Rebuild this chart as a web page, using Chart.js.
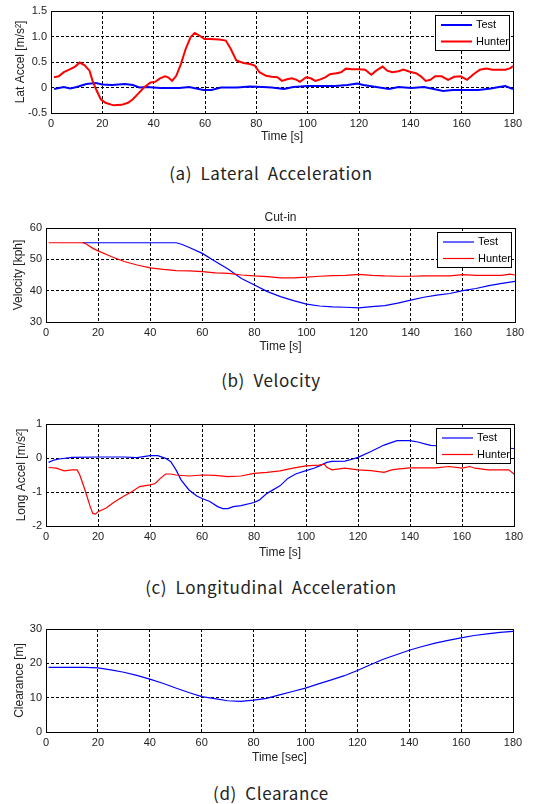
<!DOCTYPE html>
<html>
<head>
<meta charset="utf-8">
<script src="https://cdn.jsdelivr.net/npm/chart.js@4"></script>
<style>
html, body { margin: 0; padding: 0; background: #fff; }
#page { position: relative; width: 542px; height: 804px; overflow: hidden; }
.plot { position: absolute; left: 0; width: 542px; }
.cap { position: absolute; left: 0; width: 542px; text-align: center; font-family: "Noto Sans CJK KR", sans-serif;
       font-size: 17px; line-height: 20px; color: #222; word-spacing: 4px; letter-spacing: 0.6px; }
</style>
</head>
<body>
<div id="page">
  <div class="plot" style="top:0;height:150px"><canvas id="latChart"></canvas></div>
  <div class="cap" style="top:163px">(a) Lateral Acceleration</div>
  <div class="plot" style="top:200px;height:160px"><canvas id="velChart"></canvas></div>
  <div class="cap" style="top:370px">(b) Velocity</div>
  <div class="plot" style="top:410px;height:156px"><canvas id="lonChart"></canvas></div>
  <div class="cap" style="top:577px">(c) Longitudinal Acceleration</div>
  <div class="plot" style="top:610px;height:161px"><canvas id="clrChart"></canvas></div>
  <div class="cap" style="top:783px">(d) Clearance</div>
</div>
<script>
// ---- data (time in s) ----
// (a) lateral acceleration
var latTestT = [1.2, 5, 7.5, 10, 13.8, 17.5, 20, 23.8, 28.8, 31.9, 34.4, 37.5, 42.5, 50, 53.8, 59.4, 62.5, 66.2, 72.5, 77.5, 82.5, 86, 90.7, 94.4, 100, 105.6, 110.6, 115.5, 119.3, 121.7, 126.7, 131.7, 135.4, 140.4, 145.3, 149.1, 152.8, 156.5, 161.5, 166.5, 171.4, 174.5, 177, 180];
var latTest = [-0.03, 0.01, -0.02, 0.01, 0.07, 0.09, 0.06, 0.05, 0.07, 0.05, 0, 0.01, -0.01, -0.01, 0.01, -0.05, -0.05, 0, 0, 0.02, 0.01, 0, -0.03, 0.01, 0.03, 0.03, 0.03, 0.05, 0.08, 0.05, 0.01, -0.03, 0.01, -0.01, 0.01, -0.03, -0.07, -0.05, -0.05, -0.05, -0.02, 0.01, 0.03, -0.03];
var latHunterT = [1.2, 3, 5, 7.5, 9.4, 11.2, 13, 15, 16.2, 17.5, 19.4, 21.2, 24.4, 27.5, 30, 31.9, 33.8, 36.2, 38.8, 40.6, 42.5, 44.4, 45.6, 47.2, 48.8, 50.6, 52.5, 54.4, 56, 58.1, 59.8, 61.9, 65.6, 68.1, 70, 72.2, 75, 77.5, 79.4, 81.2, 83.8, 86, 88.2, 90, 92, 93.8, 95.7, 97, 99.4, 101.2, 103, 105, 106.8, 108.7, 111.2, 113, 114.9, 117.4, 120, 122.4, 124.8, 126.7, 129.2, 131, 132.9, 135.4, 137.3, 139.8, 142.2, 144.1, 146, 147.8, 149.7, 152.2, 154.7, 157.1, 159.6, 162.1, 164.6, 167.1, 169.6, 172, 174.5, 177, 179, 180];
var latHunter = [0.2, 0.22, 0.3, 0.36, 0.41, 0.49, 0.44, 0.33, 0.13, -0.03, -0.23, -0.3, -0.35, -0.34, -0.3, -0.23, -0.13, 0, 0.1, 0.11, 0.18, 0.22, 0.2, 0.13, 0.23, 0.46, 0.76, 0.99, 1.07, 1.01, 0.95, 0.95, 0.94, 0.92, 0.76, 0.53, 0.48, 0.46, 0.43, 0.3, 0.23, 0.21, 0.2, 0.13, 0.16, 0.18, 0.15, 0.11, 0.2, 0.18, 0.13, 0.16, 0.2, 0.26, 0.28, 0.3, 0.37, 0.36, 0.36, 0.35, 0.25, 0.33, 0.41, 0.33, 0.3, 0.32, 0.35, 0.31, 0.28, 0.22, 0.13, 0.15, 0.22, 0.22, 0.15, 0.21, 0.22, 0.15, 0.26, 0.35, 0.37, 0.35, 0.35, 0.35, 0.38, 0.42];

// (b) velocity [kph]
var velTestT = [14, 50, 52, 55, 60, 65, 70, 75, 80, 85, 90, 95, 100, 105, 110, 115, 120, 125, 130, 135, 140, 145, 150, 155, 160, 165, 170, 175, 180];
var velTest = [55.3, 55.3, 54.8, 53.8, 51.9, 49.3, 46.8, 43.9, 41.8, 39.7, 38.1, 36.8, 35.7, 35.1, 34.8, 34.7, 34.5, 34.9, 35.2, 36.0, 37.0, 37.9, 38.6, 39.1, 40.0, 40.7, 41.6, 42.3, 43.0];
var velHunterT = [1, 14, 15, 18, 20, 25, 30, 35, 40, 45, 50, 55, 60, 65, 70, 75, 80, 85, 90, 95, 100, 105, 110, 115, 120, 125, 130, 135, 140, 145, 150, 155, 160, 165, 170, 175, 178, 180];
var velHunter = [55.3, 55.3, 55.1, 53.5, 52.7, 50.9, 49.3, 48.2, 47.3, 46.8, 46.4, 46.3, 46.1, 45.7, 45.5, 45.0, 44.7, 44.5, 44.1, 44.1, 44.3, 44.6, 44.8, 44.9, 45.2, 44.9, 44.7, 44.6, 44.6, 44.7, 44.7, 44.7, 45.1, 44.9, 44.9, 44.9, 45.3, 45.0];

// (c) longitudinal acceleration
var lonTestT = [1, 3, 5, 10, 20, 30, 35, 40, 43, 46, 48, 50, 52, 55, 58, 60, 63, 66, 68, 70, 72, 75, 80, 82, 85, 90, 93, 96, 100, 103, 105, 108, 110, 115, 118, 120, 125, 130, 135, 140, 143, 146, 148, 150, 155, 160, 165, 170, 175, 180];
var lonTest = [-0.13, -0.06, -0.03, 0.02, 0.03, 0.03, 0.01, 0.07, 0.07, -0.01, -0.11, -0.35, -0.65, -0.94, -1.12, -1.19, -1.28, -1.43, -1.49, -1.49, -1.43, -1.40, -1.31, -1.24, -1.04, -0.82, -0.6, -0.47, -0.37, -0.3, -0.24, -0.13, -0.1, -0.09, -0.03, 0.02, 0.19, 0.38, 0.51, 0.51, 0.47, 0.41, 0.37, 0.36, 0.35, 0.33, 0.32, 0.31, 0.3, 0.28];
var lonHunterT = [1, 4, 7, 10, 12, 13, 15, 17, 18, 19, 20, 23, 26, 30, 33, 36, 40, 42, 44, 46, 48, 50, 55, 60, 65, 70, 75, 80, 85, 90, 95, 100, 105, 107, 108, 110, 115, 120, 125, 130, 133, 135, 140, 145, 150, 155, 160, 163, 165, 170, 175, 178, 180];
var lonHunter = [-0.28, -0.3, -0.38, -0.35, -0.35, -0.5, -0.94, -1.43, -1.63, -1.65, -1.58, -1.48, -1.31, -1.12, -0.99, -0.84, -0.79, -0.75, -0.6, -0.47, -0.47, -0.5, -0.53, -0.5, -0.51, -0.55, -0.53, -0.45, -0.42, -0.38, -0.3, -0.23, -0.21, -0.18, -0.27, -0.35, -0.3, -0.35, -0.37, -0.42, -0.35, -0.33, -0.29, -0.29, -0.29, -0.25, -0.3, -0.25, -0.3, -0.35, -0.35, -0.35, -0.47];

// (d) clearance [m]
var clrT = [1, 5, 10, 15, 20, 25, 30, 35, 40, 45, 50, 55, 60, 65, 70, 75, 80, 85, 90, 95, 100, 105, 110, 115, 120, 125, 130, 135, 140, 145, 150, 155, 160, 165, 170, 175, 180];
var clr = [18.8, 18.8, 18.8, 18.8, 18.7, 18.1, 17.4, 16.5, 15.4, 14.2, 12.8, 11.5, 10.3, 9.7, 9.1, 8.9, 9.3, 9.8, 10.8, 11.8, 12.8, 14.0, 15.2, 16.4, 17.9, 19.6, 21.2, 22.5, 23.8, 24.9, 25.9, 26.7, 27.4, 28.1, 28.6, 29.0, 29.3];

Chart.defaults.font.family = '"Liberation Sans", Arial, sans-serif';
Chart.defaults.color = '#222';

function pts(t, v) {
  return t.map(function (x, i) { return { x: x, y: v[i] }; });
}

// order: hunter (0) is drawn over test (1), like the later plot() call
function series(label, t, v, color, width, order) {
  return { label: label, data: pts(t, v), borderColor: color, backgroundColor: color,
           borderWidth: width, pointRadius: 0, tension: 0, fill: false, order: order };
}

// matlab-ish box + legend drawn over the lines
var boxPlugin = {
  id: 'box',
  afterDatasetsDraw: function (chart, args, opts) {
    var ctx = chart.ctx, a = chart.chartArea;
    ctx.save();
    ctx.strokeStyle = '#000';
    ctx.lineWidth = 1;
    ctx.setLineDash([]);
    ctx.strokeRect(Math.round(a.left) + 0.5, Math.round(a.top) + 0.5,
                   Math.round(a.right - a.left), Math.round(a.bottom - a.top));
    if (opts.legend) {
      var w = 74, h = 35;
      var bx = Math.round(a.right) - 4 - w, by = Math.round(a.top) + 4;
      ctx.fillStyle = '#fff';
      ctx.fillRect(bx, by, w, h);
      ctx.strokeRect(bx + 0.5, by + 0.5, w, h);
      ctx.font = '11px "Liberation Sans", Arial, sans-serif';
      ctx.textBaseline = 'middle';
      chart.data.datasets.forEach(function (ds, i) {
        var y = by + 10 + i * 16.5;
        ctx.strokeStyle = ds.borderColor;
        ctx.lineWidth = ds.borderWidth;
        ctx.beginPath();
        ctx.moveTo(bx + 6, y);
        ctx.lineTo(bx + 37, y);
        ctx.stroke();
        ctx.fillStyle = '#000';
        ctx.fillText(ds.label, bx + 41, y);
      });
    }
    ctx.restore();
  }
};

function scales(yMin, yMax, yStep, yTitle, xTitle, yW, xH, yPad) {
  return {
    x: {
      type: 'linear', min: 0, max: 180,
      ticks: { stepSize: 20, padding: 4, font: { size: 11 } },
      grid: { color: '#000', drawTicks: false },
      border: { display: false, dash: [3, 2] },
      title: { display: true, text: xTitle, font: { size: 12 }, padding: { top: 0, bottom: 6 } },
      afterFit: function (s) { s.height = xH; }
    },
    y: {
      min: yMin, max: yMax,
      ticks: { stepSize: yStep, padding: 4, font: { size: 11 } },
      grid: { color: '#000', drawTicks: false },
      border: { display: false, dash: [3, 2] },
      title: { display: true, text: yTitle, font: { size: 12 }, padding: { top: yPad, bottom: 0 } },
      afterFit: function (s) { s.width = yW; }
    }
  };
}

function makeChart(id, datasets, sc, pad, title, legend) {
  return new Chart(document.getElementById(id), {
    type: 'line',
    data: { datasets: datasets },
    options: {
      responsive: true,
      maintainAspectRatio: false,
      animation: false,
      layout: { padding: pad },
      scales: sc,
      plugins: {
        legend: { display: false },
        tooltip: { enabled: false },
        title: title,
        box: { legend: legend }
      }
    },
    plugins: [boxPlugin]
  });
}

makeChart('latChart',
  [series('Test', latTestT, latTest, '#0000ff', 2, 1), series('Hunter', latHunterT, latHunter, '#ff0000', 2, 0)],
  scales(-0.5, 1.5, 0.5, 'Lat Accel [m/s\u00b2]', 'Time [s]', 51, 37, 13),
  { top: 11, right: 29, left: 0, bottom: 0 },
  { display: false }, true);

makeChart('velChart',
  [series('Test', velTestT, velTest, '#0000ff', 1.2, 1), series('Hunter', velHunterT, velHunter, '#ff0000', 1.2, 0)],
  scales(30, 60, 10, 'Velocity [kph]', 'Time [s]', 46, 38, 11),
  { top: 0, right: 27, left: 0, bottom: 0 },
  { display: true, text: 'Cut-in', fullSize: false, color: '#222', font: { size: 12, weight: 'normal' }, padding: { top: 10, bottom: 3.6 } },
  true);

makeChart('lonChart',
  [series('Test', lonTestT, lonTest, '#0000ff', 1.2, 1), series('Hunter', lonHunterT, lonHunter, '#ff0000', 1.2, 0)],
  scales(-2, 1, 1, 'Long Accel [m/s\u00b2]', 'Time [s]', 46, 40, 14),
  { top: 14, right: 28, left: 0, bottom: 0 },
  { display: false }, true);

makeChart('clrChart',
  [series('Clearance', clrT, clr, '#0000ff', 1.2, 0)],
  scales(0, 30, 10, 'Clearance [m]', 'Time [sec]', 46, 39, 12),
  { top: 19, right: 29, left: 0, bottom: 0 },
  { display: false }, false);
</script>
</body>
</html>
